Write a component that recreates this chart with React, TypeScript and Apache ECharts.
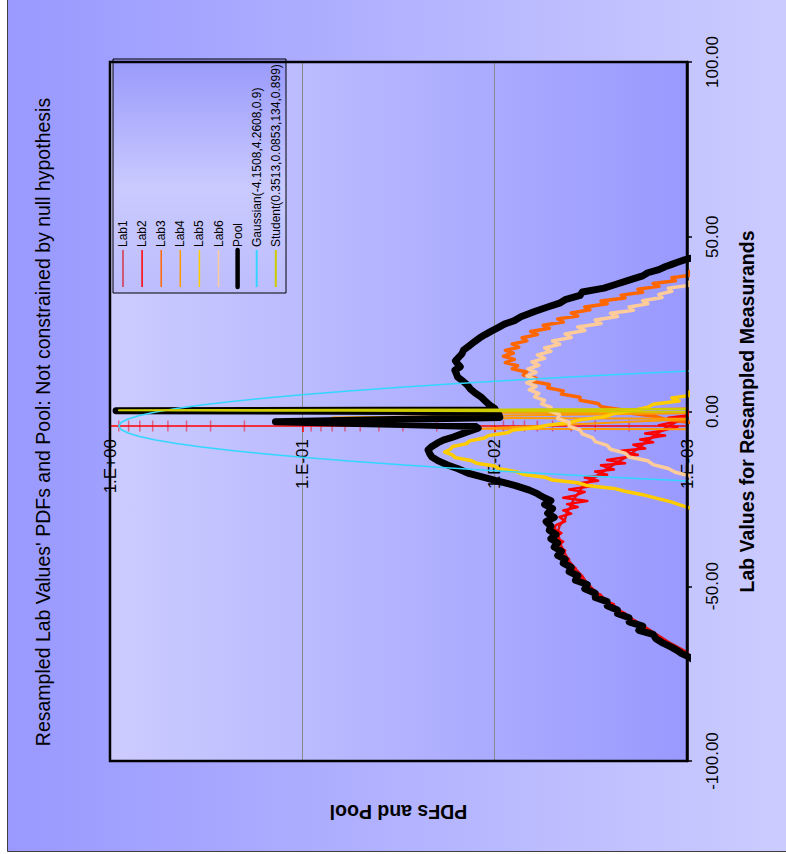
import React, { useEffect, useRef } from 'react';
import * as echarts from 'echarts';

const FONT = '"Liberation Sans", Arial, Helvetica, sans-serif';

// ---------- data: [lab value, pdf] ----------
const lab1: [number, number][] = [
  [0.3, 0.0008], [-1.2, 0.001], [-2.8, 0.00112], [-4.2, 0.00125], [-6.2, 0.00142], [-8.4, 0.0016],
  [-10.5, 0.0018], [-12.6, 0.0020], [-14.5, 0.0023], [-16.4, 0.0026], [-18.2, 0.0029], [-19.8, 0.0032],
  [-21.7, 0.0035], [-23.6, 0.0037], [-25.2, 0.0039], [-27.0, 0.0040], [-28.8, 0.0042], [-30.7, 0.0043],
  [-32.7, 0.0046], [-34.7, 0.0047], [-36.6, 0.0046], [-38.5, 0.0045], [-40.7, 0.0043], [-42.8, 0.0041],
  [-45.0, 0.0038], [-47.1, 0.0035], [-49.2, 0.0033], [-51.4, 0.0030], [-54.8, 0.0025], [-58.0, 0.0021],
  [-62.1, 0.0016], [-65.9, 0.00125], [-69.5, 0.00095], [-71, 0.0008],
];
const lab2: [number, number][] = [
  [0.8, 0.0008], [-0.3, 0.00105], [-0.9, 0.00092], [-1.8, 0.00125], [-2.2, 0.001], [-3.1, 0.00118],
  [-3.9, 0.0014], [-4.4, 0.00112], [-5.5, 0.00135], [-6.3, 0.00165], [-6.9, 0.0013], [-8.0, 0.00175],
  [-8.8, 0.0015], [-9.5, 0.0019], [-10.6, 0.00165], [-11.2, 0.0022], [-12.4, 0.0018], [-13.1, 0.0021],
  [-13.9, 0.0026], [-14.8, 0.0021], [-15.4, 0.0028], [-16.6, 0.0024], [-17.2, 0.003], [-18.1, 0.0026],
  [-18.9, 0.0034], [-19.8, 0.0029], [-20.6, 0.0037], [-21.3, 0.0031], [-22.3, 0.0041], [-23.0, 0.0034],
  [-24.0, 0.0038], [-24.7, 0.0044], [-25.6, 0.0033], [-26.5, 0.0042], [-27.3, 0.0037], [-28.3, 0.0044],
  [-29.2, 0.004], [-30.2, 0.0046], [-31.4, 0.0043], [-32.5, 0.0048], [-33.6, 0.0049], [-34.8, 0.0045],
  [-36.0, 0.0049], [-37.2, 0.0044], [-38.5, 0.0047], [-39.8, 0.0043], [-41.0, 0.0045], [-42.2, 0.0041],
  [-43.5, 0.0042], [-44.8, 0.0038], [-46.0, 0.0039], [-47.3, 0.0035], [-48.6, 0.0036], [-49.9, 0.0032],
  [-51.2, 0.0032], [-52.5, 0.0028], [-53.8, 0.0028], [-55.1, 0.0024], [-56.4, 0.0024], [-57.7, 0.0021],
  [-59.0, 0.00205], [-60.3, 0.00185], [-61.6, 0.00165], [-62.9, 0.0016], [-64.2, 0.00145], [-65.5, 0.0013],
  [-66.8, 0.00122], [-68.1, 0.00108], [-69.4, 0.001], [-70.8, 0.0008],
];
const lab3: [number, number][] = [
  [41, 0.0008], [40.0, 0.00098], [39.1, 0.00092], [38.3, 0.0012], [37.4, 0.00115], [36.6, 0.0015],
  [35.8, 0.0014], [35.0, 0.0018], [34.1, 0.0017], [33.3, 0.0022], [32.5, 0.0021], [31.6, 0.0028],
  [30.8, 0.0026], [29.9, 0.0034], [29.1, 0.0032], [28.2, 0.0040], [27.3, 0.0037], [26.5, 0.0047],
  [25.6, 0.0044], [24.7, 0.0056], [23.8, 0.0052], [22.9, 0.0065], [22.0, 0.0060], [21.1, 0.0072],
  [20.2, 0.0068], [19.3, 0.0081], [18.4, 0.0075], [17.5, 0.0088], [16.7, 0.0080], [15.8, 0.0090],
  [14.9, 0.0079], [14.0, 0.0088], [13.1, 0.0076], [12.2, 0.0081], [11.3, 0.0068], [10.4, 0.0071],
  [9.5, 0.0061], [8.6, 0.0063], [7.7, 0.0052], [6.8, 0.0053], [5.9, 0.0044], [5.0, 0.0045],
  [4.1, 0.0036], [3.2, 0.0036], [2.3, 0.0029], [1.4, 0.0028], [0.5, 0.0022], [-0.4, 0.0020],
  [-1.3, 0.0015], [-2.2, 0.0013], [-3.1, 0.00098], [-4.0, 0.0008],
];
const lab4: [number, number][] = [
  [1.0, 0.0008], [-0.3, 0.012], [-0.5, 0.0009], [-1.7, 0.07], [-2.1, 0.0009], [-4.9, 0.012], [-5.1, 0.0008],
];
const lab5: [number, number][] = [
  [6.5, 0.0008], [5.5, 0.00098], [4.7, 0.00092], [3.9, 0.0012], [3.0, 0.0011], [2.1, 0.0015],
  [1.2, 0.0016], [0.3, 0.0019], [-0.6, 0.0024], [-1.5, 0.0027], [-2.4, 0.0036], [-3.2, 0.0041],
  [-3.9, 0.0053], [-4.6, 0.0060], [-5.3, 0.0080], [-6.1, 0.0086], [-6.9, 0.0108], [-7.6, 0.0113],
  [-8.4, 0.0135], [-9.2, 0.0140], [-10.0, 0.0165], [-10.8, 0.0170], [-11.6, 0.0182], [-12.4, 0.0166],
  [-13.2, 0.0160], [-14.0, 0.0133], [-14.8, 0.0124], [-15.6, 0.0100], [-16.4, 0.0095], [-17.2, 0.0077],
  [-18.0, 0.0071], [-18.8, 0.0055], [-19.6, 0.0050], [-20.4, 0.0037], [-21.2, 0.0033], [-22.0, 0.0024],
  [-22.8, 0.0021], [-23.8, 0.0017], [-24.8, 0.00145], [-25.8, 0.00122], [-26.8, 0.00108], [-27.8, 0.00094],
  [-29, 0.0008],
];
const lab6: [number, number][] = [
  [38, 0.0008], [37.0, 0.00098], [36.2, 0.00095], [35.3, 0.00125], [34.4, 0.0012], [33.5, 0.0014],
  [32.6, 0.00135], [31.7, 0.0017], [30.8, 0.0016], [29.9, 0.0020], [29.0, 0.0019], [28.1, 0.0025],
  [27.2, 0.0023], [26.2, 0.0030], [25.2, 0.0028], [24.2, 0.0037], [23.2, 0.0034], [22.2, 0.0043],
  [21.2, 0.0040], [20.2, 0.0050], [19.2, 0.0046], [18.2, 0.0055], [17.2, 0.0051], [16.2, 0.0060],
  [15.2, 0.0055], [14.2, 0.0064], [13.2, 0.0059], [12.2, 0.0067], [11.2, 0.0061], [10.2, 0.0068],
  [9.2, 0.0062], [8.2, 0.0068], [7.2, 0.0061], [6.2, 0.0066], [5.2, 0.0059], [4.2, 0.0062],
  [3.2, 0.0055], [2.2, 0.0057], [1.2, 0.0051], [0.2, 0.0052], [-0.9, 0.0046], [-2.0, 0.0047],
  [-3.1, 0.0041], [-4.2, 0.0041], [-5.3, 0.0036], [-6.4, 0.0035], [-7.5, 0.0031], [-8.6, 0.0030],
  [-9.7, 0.0026], [-10.8, 0.0025], [-11.9, 0.0021], [-13.0, 0.0020], [-14.1, 0.0016], [-15.2, 0.0015],
  [-16.3, 0.00125], [-17.4, 0.00115], [-18.5, 0.00095], [-19.5, 0.0008],
];
const pool: [number, number][] = [
  [44.2, 0.0008], [43.8, 0.00097], [43.3, 0.00104], [42.7, 0.00112], [42.1, 0.0012], [41.4, 0.0013],
  [40.6, 0.0014], [39.7, 0.0016], [38.8, 0.0017], [37.6, 0.0020], [36.2, 0.0024], [35.3, 0.0027],
  [34.2, 0.0035], [33.2, 0.0036], [32.0, 0.0043], [31.0, 0.0046], [29.9, 0.0053], [28.6, 0.0062],
  [27.1, 0.0073], [26.0, 0.0079], [25.0, 0.0089], [24.0, 0.0096], [23.0, 0.0104], [22.0, 0.0112],
  [21.0, 0.0120], [20.0, 0.0127], [19.0, 0.0134], [17.6, 0.0145], [16.5, 0.0148], [15.5, 0.0154],
  [14.5, 0.0160], [13.9, 0.0157], [12.8, 0.0151], [11.8, 0.0161], [10.8, 0.0158], [9.9, 0.0156],
  [8.8, 0.0147], [7.6, 0.0139], [6.5, 0.0134], [5.4, 0.0127], [4.2, 0.0118], [3.0, 0.0112],
  [1.8, 0.0106], [0.9, 0.0100], [0.45, 0.0099], [0.2, 0.93], [-0.05, 0.0097], [-0.9, 0.0095],
  [-1.7, 0.0094], [-2.9, 0.138], [-3.7, 0.03], [-4.3, 0.0125], [-4.8, 0.0122], [-5.9, 0.0140],
  [-7.3, 0.0164], [-8.2, 0.0185], [-9.0, 0.0198], [-10.0, 0.0212], [-11.0, 0.0222], [-12.0, 0.0218],
  [-13.0, 0.0212], [-14.2, 0.0195], [-15.3, 0.0176], [-16.4, 0.0155], [-17.6, 0.0138], [-18.8, 0.0115],
  [-20.0, 0.0095], [-21.2, 0.0078], [-22.5, 0.0066], [-23.5, 0.0060], [-24.5, 0.0056], [-25.5, 0.0051],
  [-26.6, 0.0055], [-27.8, 0.0050], [-29.1, 0.0053], [-30.3, 0.0049], [-31.5, 0.0054], [-32.8, 0.0051],
  [-34.0, 0.0052], [-35.2, 0.0048], [-36.4, 0.0051], [-37.6, 0.0047], [-38.8, 0.0049], [-40.0, 0.0045],
  [-41.2, 0.0047], [-42.3, 0.0043], [-43.4, 0.0044], [-44.6, 0.0040], [-45.8, 0.0041], [-47.0, 0.0037],
  [-48.3, 0.0038], [-49.5, 0.0033], [-50.7, 0.0034], [-52.0, 0.0030], [-53.2, 0.0030], [-54.4, 0.0026],
  [-55.6, 0.0026], [-56.8, 0.0023], [-57.8, 0.0023], [-59.0, 0.0020], [-60.2, 0.0020], [-61.4, 0.0017],
  [-62.6, 0.00178], [-63.8, 0.0015], [-65.0, 0.00145], [-66.3, 0.00133], [-67.5, 0.0012], [-68.4, 0.00112],
  [-69.2, 0.00107], [-70.2, 0.00098], [-71.5, 0.0009], [-73, 0.0007],
];
const gaussian: [number, number][] = [
  [-20.15, 0.00078], [-19.15, 0.00183], [-18.15, 0.00407], [-17.15, 0.00857], [-16.15, 0.01706],
  [-15.15, 0.0321], [-14.15, 0.0573], [-13.15, 0.0967], [-12.15, 0.1544], [-11.15, 0.233], [-10.15, 0.334],
  [-9.15, 0.452], [-8.15, 0.579], [-7.15, 0.702], [-6.15, 0.806], [-5.15, 0.876], [-4.15, 0.9],
  [-3.15, 0.876], [-2.15, 0.806], [-1.15, 0.702], [-0.15, 0.579], [0.85, 0.452], [1.85, 0.334],
  [2.85, 0.233], [3.85, 0.1544], [4.85, 0.0967], [5.85, 0.0573], [6.85, 0.0321], [7.85, 0.01706],
  [8.85, 0.00857], [9.85, 0.00407], [10.85, 0.00183], [11.85, 0.00078],
];
const student: [number, number][] = [
  [0.75, 0.0008], [0.62, 0.006], [0.5, 0.06], [0.42, 0.35], [0.35, 0.899], [0.28, 0.35], [0.2, 0.06],
  [0.08, 0.006], [-0.05, 0.0008],
];

const seriesNames = ['Lab1', 'Lab2', 'Lab3', 'Lab4', 'Lab5', 'Lab6', 'Pool',
  'Gaussian(-4.1508,4.2608,0.9)', 'Student(0.3513,0.0853,134,0.899)'];
const seriesData = [lab1, lab2, lab3, lab4, lab5, lab6, pool, gaussian, student];

// PDF axis crosses the lab-value axis at this lab value
const pdfAxisCrossValue = -4.1508;
// minor ticks of the log axis
const minorTickPdfs = [0.9, 0.8, 0.7, 0.6, 0.5, 0.4, 0.3, 0.2, 0.09, 0.08, 0.07, 0.06, 0.05, 0.04, 0.03, 0.02,
  0.009, 0.008, 0.007, 0.006, 0.005, 0.004, 0.003, 0.002];

const seriesColors = ['#D8141C', '#FF0000', '#FF6600', '#FF9900', '#FFCC00', '#FFCC99', '#000000', '#33D6FF', '#CCCC00'];
const seriesWidths = [2.5, 2.5, 3.5, 2, 3.5, 3.5, 7, 1.5, 2];
const legendWidths = [1.2, 1.5, 1.5, 1.5, 1.5, 1.5, 4.5, 2, 2];

const GRID = { left: 110, right: 99, top: 62, bottom: 93 };
const W = 786;
const H = 854;

function pdfLabel(v: number) {
  const e = Math.round(Math.log10(v));
  return '1.E' + (e < 0 ? '-' : '+') + String(Math.abs(e)).padStart(2, '0');
}

export default function App() {
  const ref = useRef<HTMLDivElement>(null);
  useEffect(() => {
    if (!ref.current) return;
    const chart = echarts.init(ref.current, undefined, { renderer: 'svg' });
    const gridH = H - GRID.top - GRID.bottom;
    const gridW = W - GRID.left - GRID.right;
    const crossOffset = -((pdfAxisCrossValue + 100) / 200) * gridH;

    const lineSeries = seriesNames.map((name, i) => ({
      name,
      type: 'line',
      data: seriesData[i].map(([v, p]) => [p, v]),
      showSymbol: false,
      symbol: 'none',
      clip: true,
      lineStyle: { color: seriesColors[i], width: seriesWidths[i], join: 'round', cap: 'round' },
      z: 3,
      silent: true,
    }));

    const lx = 113, ly = 59, lw = 173, lh = 234;
    const legendChildren: any[] = [
      {
        type: 'rect', shape: { x: lx, y: ly, width: lw, height: lh },
        style: {
          fill: new echarts.graphic.LinearGradient(0, 0, 0, 1, [
            { offset: 0, color: '#9999FB' }, { offset: 0.55, color: '#CACAFF' }, { offset: 1, color: '#BDBDFD' },
          ]),
          stroke: '#000', lineWidth: 1,
        },
      },
    ];
    seriesNames.forEach((name, i) => {
      const x = lx + 10 + i * 19.1;
      legendChildren.push({
        type: 'line', shape: { x1: x, y1: 250, x2: x, y2: 287 },
        style: { stroke: seriesColors[i], lineWidth: legendWidths[i], lineCap: i === 6 ? 'round' : 'butt' },
      });
      legendChildren.push({
        type: 'text', x: x, y: 247, rotation: Math.PI / 2,
        style: { text: name, fontSize: 12, fontFamily: FONT, fill: '#000', align: 'left', verticalAlign: 'middle' },
      });
    });

    const option: any = {
      animation: false,
      backgroundColor: '#FFFFFF',
      grid: { ...GRID, show: false, containLabel: false },
      xAxis: {
        type: 'log', logBase: 10, min: 0.001, max: 1, inverse: true, position: 'bottom',
        offset: crossOffset,
        axisLine: { show: true, onZero: false, lineStyle: { color: '#FF0000', width: 1.5 } },
        axisTick: { show: true, length: 6, lineStyle: { color: '#FF0000', width: 1.5 } },
        axisLabel: {
          rotate: 90, margin: 13, fontSize: 17, color: '#000', fontFamily: FONT,
          formatter: pdfLabel, showMinLabel: true, showMaxLabel: true,
        },
        splitLine: { show: true, lineStyle: { color: '#8A8A8A', width: 1 } },
        minorTick: { show: false },
      },
      yAxis: {
        type: 'value', position: 'right', min: -100, max: 100, interval: 50,
        axisLine: { show: true, onZero: false, lineStyle: { color: '#000', width: 2.5 } },
        axisTick: { show: true, length: 5, lineStyle: { color: '#000', width: 1.5 } },
        axisLabel: {
          rotate: 90, margin: 17, fontSize: 17, color: '#000', fontFamily: FONT,
          formatter: (v: number) => v.toFixed(2),
        },
        splitLine: { show: false },
        name: 'Lab Values for Resampled Measurands',
        nameLocation: 'middle', nameRotate: 90, nameGap: 50,
        nameTextStyle: { fontSize: 19.5, fontWeight: 'bold', color: '#000', fontFamily: FONT },
      },
      graphic: [
        {
          type: 'rect', z: -20, silent: true,
          shape: { x: 7.5, y: -2, width: W, height: 853.5 },
          style: {
            fill: new echarts.graphic.LinearGradient(0, 0, 1, 0, [
              { offset: 0, color: '#9999FF' }, { offset: 1, color: '#CCCCFF' },
            ]),
            stroke: '#404040', lineWidth: 1,
          },
        },
        {
          type: 'rect', z: -19, silent: true,
          shape: { x: GRID.left, y: GRID.top, width: gridW, height: gridH },
          style: {
            fill: new echarts.graphic.LinearGradient(0, 0, 1, 0, [
              { offset: 0, color: '#CCCCFF' }, { offset: 1, color: '#9999FF' },
            ]),
          },
        },
        {
          type: 'rect', z: 40, silent: true,
          shape: { x: GRID.left, y: GRID.top, width: gridW, height: gridH },
          style: { fill: 'none', stroke: '#000', lineWidth: 2.5 },
        },
        {
          type: 'text', z: 40, x: 43, y: 422, rotation: Math.PI / 2,
          style: {
            text: "Resampled Lab Values' PDFs and Pool: Not constrained by null hypothesis",
            fontSize: 19.5, fontFamily: FONT, fill: '#000', align: 'center', verticalAlign: 'middle',
          },
        },
        {
          type: 'text', z: 40, x: GRID.left + gridW / 2, y: 812, rotation: Math.PI,
          style: {
            text: 'PDFs and Pool', fontSize: 19.5, fontWeight: 'bold', fontFamily: FONT, fill: '#000',
            align: 'center', verticalAlign: 'middle',
          },
        },
        { type: 'group', z: 60, children: legendChildren },
      ],
      series: [
        {
          type: 'scatter', silent: true, z: 1,
          data: minorTickPdfs.map((p) => [p, pdfAxisCrossValue]),
          symbol: 'rect', symbolSize: [1.5, 11],
          itemStyle: { color: 'rgba(235,20,40,0.7)' },
        },
        ...lineSeries,
      ],
    };
    chart.setOption(option);
    return () => chart.dispose();
  }, []);
  return <div ref={ref} style={{ position: 'absolute', left: 0, top: 0, width: W, height: H }} />;
}
